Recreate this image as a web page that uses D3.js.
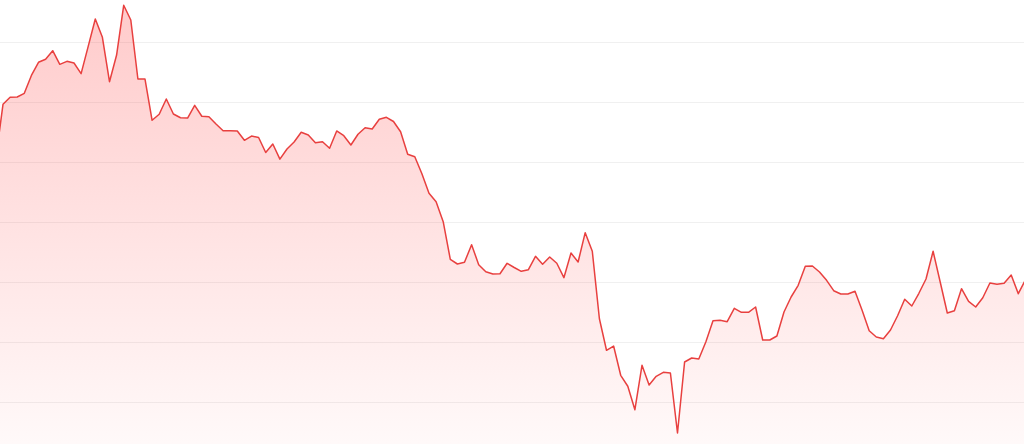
<!DOCTYPE html>
<html>
<head>
<meta charset="utf-8">
<script src="https://cdn.jsdelivr.net/npm/d3@7"></script>
<style>
html,body{margin:0;padding:0;background:#fff;overflow:hidden;}
svg{display:block;}
</style>
</head>
<body>
<svg id="chart" width="1024" height="444"></svg>
<script>
const values = [
140.67,149.62,150.78,150.83,151.45,154.42,156.62,157.12,158.55,156.28,
156.78,156.5,154.72,159.28,163.83,160.78,153.38,157.83,166.12,163.67,
153.83,153.83,146.95,147.95,150.5,148,147.38,147.33,149.45,147.62,
147.55,146.33,145.22,145.22,145.17,143.62,144.33,144.08,141.58,143,
140.47,142.17,143.33,144.95,144.5,143.22,143.38,142.28,145.17,144.38,
142.83,144.62,145.72,145.5,147.12,147.45,146.75,145.05,141.3,140.87,
138.03,134.78,133.38,130.05,123.78,123,123.28,126.22,122.88,121.72,
121.33,121.38,123.12,122.42,121.78,122.05,124.28,122.95,124.17,123.12,
120.72,124.83,123.33,128.22,125.12,113.88,108.62,109.33,104.45,102.62,
98.72,106.12,102.83,104.28,104.95,104.83,94.83,106.67,107.33,107.17,
110.05,113.55,113.62,113.38,115.62,114.95,114.95,115.83,110.33,110.33,
111,115,117.5,119.45,122.62,122.67,121.67,120.28,118.55,118,
118,118.45,115.28,111.88,110.83,110.55,112,114.38,117.12,116,
118.12,120.5,125.12,120,114.83,115.22,118.88,116.78,115.83,117.38,
119.83,119.62,119.78,121.17,118.05,120.33
];
const gridTicks = [100,110,120,130,140,150,160];

const W = 1024, H = 444;
const svg = d3.select("#chart");
const x = d3.scaleLinear().domain([0, values.length - 1]).range([-4.1, 1025.4]);
const y = d3.scaleLinear().domain([100, 160]).range([402, 42]);

const defs = svg.append("defs");
const grad = defs.append("linearGradient")
  .attr("id","fillGrad").attr("gradientUnits","userSpaceOnUse")
  .attr("x1",0).attr("x2",0).attr("y1",0).attr("y2",H);
grad.append("stop").attr("offset","0%").attr("stop-color","#ff3b3b").attr("stop-opacity",0.27);
grad.append("stop").attr("offset","100%").attr("stop-color","#ff3b3b").attr("stop-opacity",0.03);

svg.append("g").selectAll("line").data(gridTicks).join("line")
  .attr("x1",0).attr("x2",W)
  .attr("y1",d=>Math.round(y(d))+0.5).attr("y2",d=>Math.round(y(d))+0.5)
  .attr("stroke","#f0f0f0").attr("stroke-width",1);

const area = d3.area().x((d,i)=>x(i)).y0(H+10).y1(d=>y(d));
const line = d3.line().x((d,i)=>x(i)).y(d=>y(d));

svg.append("path").datum(values).attr("d",area).attr("fill","url(#fillGrad)");
svg.append("path").datum(values).attr("d",line)
  .attr("fill","none").attr("stroke","#e8403f").attr("stroke-width",1.5)
  .attr("stroke-linejoin","round");
</script>
</body>
</html>
